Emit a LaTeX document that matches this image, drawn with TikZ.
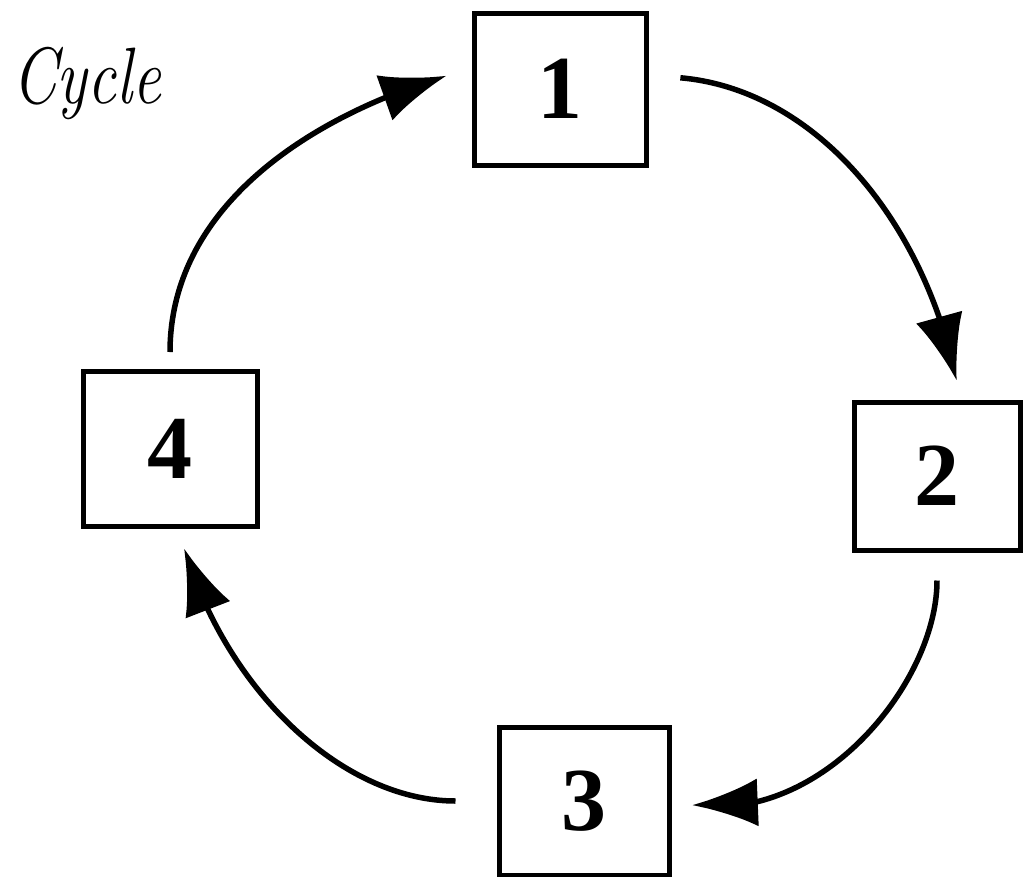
\documentclass[tikz,border=0pt]{standalone}
\usepackage{fontspec}
\newfontfamily\digitfont{Liberation Serif}
\usetikzlibrary{arrows.meta,bending}
\tikzset{
  box/.style={draw, line width=5pt, inner sep=0pt, font=\fontsize{90}{94}\digitfont\bfseries},
  flow/.style={line width=5.5pt, -{Latex[length=66pt,width=48pt]}},
}
\begin{document}
\begin{tikzpicture}[x=1pt,y=-1pt]
\useasboundingbox (0,0) rectangle (1023,876);
\node[box, minimum width=172pt, minimum height=152pt] (n1) at (560,89) {1};
\node[box, minimum width=166pt, minimum height=148pt] (n2) at (937,476) {2};
\node[box, minimum width=170pt, minimum height=148pt] (n3) at (584,801) {3};
\node[box, minimum width=174pt, minimum height=155pt] (n4) at (170,449) {4};
\node[anchor=base west, font=\fontsize{80}{88}\selectfont\itshape, xscale=0.8, inner sep=0pt] (title) at (12,103) {Cycle};
\draw[flow, shorten <=17pt, shorten >=26pt] (n4.north) to[out=90, in=195] (n1.167);
\draw[flow, shorten <=32pt, shorten >=19pt] (n1.9) to[out=-5, in=100] (n2.73);
\draw[flow, shorten <=28pt, shorten >=21pt] (n2.south) to[out=-90, in=-15] (n3.east);
\draw[flow, shorten <=41pt, shorten >=20pt] (n3.west) to[out=180, in=-75] (n4.-84);
\end{tikzpicture}
\end{document}
